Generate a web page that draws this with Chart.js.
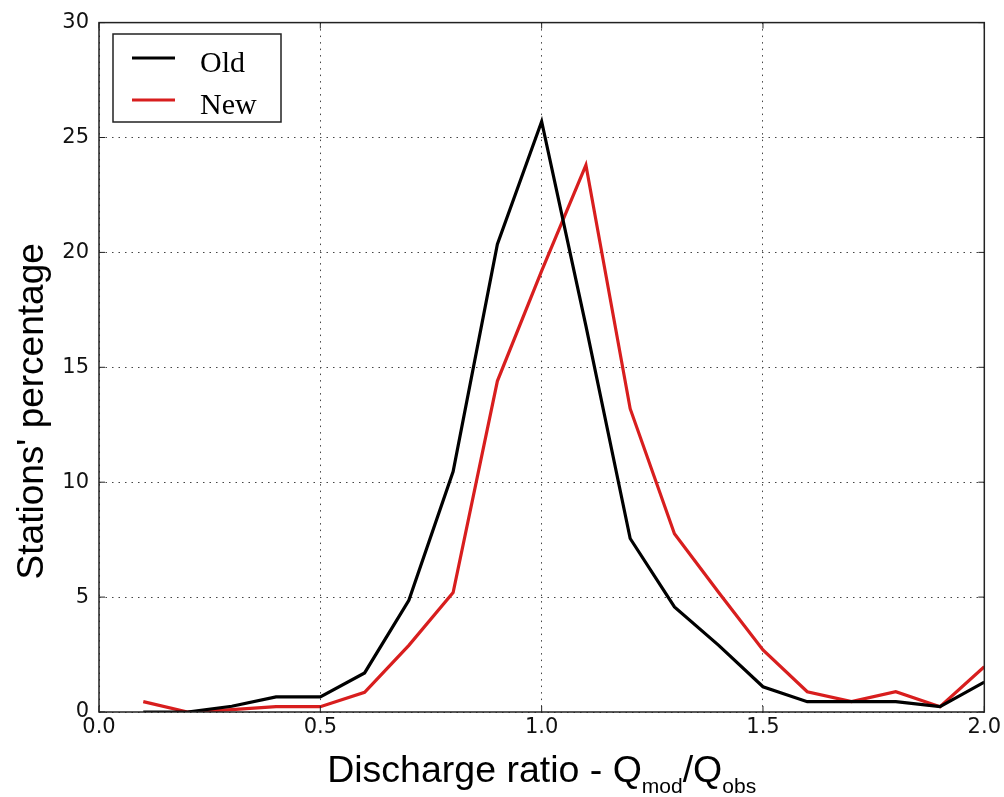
<!DOCTYPE html>
<html>
<head>
<meta charset="utf-8">
<script src="https://cdn.jsdelivr.net/npm/chart.js@4.4.1/dist/chart.umd.min.js"></script>
<style>
  html, body { margin: 0; padding: 0; background: #fff; }
  #wrap { width: 1004px; height: 797px; }
</style>
</head>
<body>
<div id="wrap"><canvas id="c" width="1004" height="797"></canvas></div>
<script>
// discharge ratio bins and station percentages
const ratios = [0.1, 0.2, 0.3, 0.4, 0.5, 0.6, 0.7, 0.8, 0.9, 1.0,
                1.1, 1.2, 1.3, 1.4, 1.5, 1.6, 1.7, 1.8, 1.9, 2.0];
const oldPct = [0, 0, 0.25, 0.66, 0.66, 1.7, 4.86, 10.46, 20.36, 25.7,
                16.8, 7.55, 4.57, 2.9, 1.1, 0.45, 0.45, 0.45, 0.23, 1.3];
const newPct = [0.45, 0, 0.1, 0.23, 0.23, 0.86, 2.9, 5.2, 14.4, 19.2,
                23.8, 13.2, 7.76, 5.2, 2.7, 0.88, 0.45, 0.88, 0.23, 1.97];
const xTicks = [0, 0.5, 1.0, 1.5, 2.0];
const yTicks = [0, 5, 10, 15, 20, 25, 30];
const seriesNames = ["Old", "New"];
const seriesColors = ["#000000", "#d81e1e"];

const toPts = vals => ratios.map((r, i) => ({ x: r, y: vals[i] }));

// frame, inward ticks, axis titles, legend
const decor = {
  id: "decor",
  afterDraw(chart) {
    const ctx = chart.ctx;
    const a = chart.chartArea;
    const xs = chart.scales.x, ys = chart.scales.y;
    ctx.save();
    ctx.strokeStyle = "#222";
    ctx.lineWidth = 1.5;
    ctx.strokeRect(a.left, a.top, a.right - a.left, a.bottom - a.top);

    ctx.lineWidth = 1;
    ctx.beginPath();
    xTicks.forEach(v => {
      const px = xs.getPixelForValue(v);
      ctx.moveTo(px, a.bottom); ctx.lineTo(px, a.bottom - 6);
      ctx.moveTo(px, a.top); ctx.lineTo(px, a.top + 6);
    });
    yTicks.forEach(v => {
      const py = ys.getPixelForValue(v);
      ctx.moveTo(a.left, py); ctx.lineTo(a.left + 6, py);
      ctx.moveTo(a.right, py); ctx.lineTo(a.right - 6, py);
    });
    ctx.stroke();

    // y title
    ctx.fillStyle = "#000";
    ctx.font = "37px 'Liberation Sans', Arial, sans-serif";
    ctx.save();
    ctx.translate(43, (a.top + a.bottom) / 2 + 44);
    ctx.rotate(-Math.PI / 2);
    ctx.textAlign = "center";
    ctx.textBaseline = "alphabetic";
    ctx.fillText("Stations' percentage", 0, 0);
    ctx.restore();

    // x title with subscripts
    const big = "37.5px 'Liberation Sans', Arial, sans-serif";
    const small = "21px 'Liberation Sans', Arial, sans-serif";
    const parts = [
      ["Discharge ratio - Q", big, 0],
      ["mod", small, 11],
      ["/Q", big, 0],
      ["obs", small, 11]
    ];
    let total = 0;
    parts.forEach(p => { ctx.font = p[1]; total += ctx.measureText(p[0]).width; });
    let x = (a.left + a.right) / 2 - total / 2;
    ctx.textAlign = "left";
    parts.forEach(p => {
      ctx.font = p[1];
      ctx.fillText(p[0], x, 782 + p[2]);
      x += ctx.measureText(p[0]).width;
    });

    // legend
    ctx.fillStyle = "#fff";
    ctx.fillRect(113, 34, 168, 88);
    ctx.strokeStyle = "#222";
    ctx.lineWidth = 1.5;
    ctx.strokeRect(113, 34, 168, 88);
    ctx.font = "30px 'Liberation Serif', 'Times New Roman', serif";
    seriesNames.forEach((name, i) => {
      const ly = 58 + i * 42;
      ctx.strokeStyle = seriesColors[i];
      ctx.lineWidth = 3.2;
      ctx.beginPath();
      ctx.moveTo(132, ly); ctx.lineTo(175, ly);
      ctx.stroke();
      ctx.fillStyle = "#000";
      ctx.fillText(name, 200, ly + 14);
    });
    ctx.restore();
  }
};

new Chart(document.getElementById("c"), {
  type: "line",
  data: {
    datasets: [
      { label: seriesNames[0], data: toPts(oldPct), borderColor: seriesColors[0],
        borderWidth: 3.2, pointRadius: 0, tension: 0, fill: false },
      { label: seriesNames[1], data: toPts(newPct), borderColor: seriesColors[1],
        borderWidth: 3.2, pointRadius: 0, tension: 0, fill: false }
    ]
  },
  options: {
    responsive: false,
    animation: false,
    layout: { padding: { left: 0, top: 21, right: 17, bottom: 0 } },
    plugins: { legend: { display: false }, tooltip: { enabled: false } },
    scales: {
      x: {
        type: "linear", min: 0, max: 2,
        afterBuildTicks: s => { s.ticks = xTicks.map(v => ({ value: v })); },
        afterFit: s => { s.height = 85; },
        grid: { color: "#444", lineWidth: 1, drawTicks: false },
        border: { display: false, dash: [1.5, 5] },
        ticks: { padding: 3, color: "#111", font: { family: "'DejaVu Sans'", size: 21 },
                 callback: v => Number(v).toFixed(1), maxRotation: 0 }
      },
      y: {
        min: 0, max: 30,
        afterBuildTicks: s => { s.ticks = yTicks.map(v => ({ value: v })); },
        afterFit: s => { s.width = 99; },
        grid: { color: "#444", lineWidth: 1, drawTicks: false },
        border: { display: false, dash: [1.5, 5] },
        ticks: { padding: 10, color: "#111", font: { family: "'DejaVu Sans'", size: 21 } }
      }
    }
  },
  plugins: [decor]
});
</script>
</body>
</html>
